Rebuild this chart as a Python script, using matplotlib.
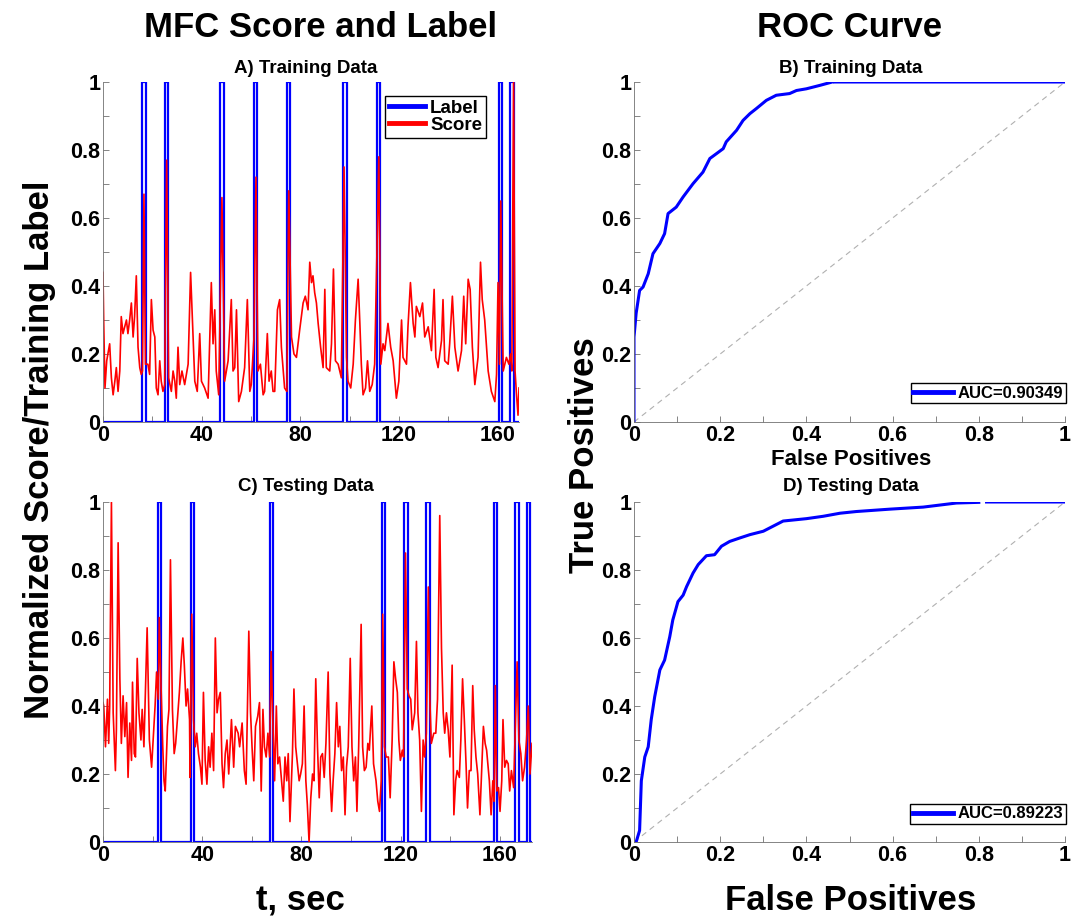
import numpy as np
import matplotlib.pyplot as plt
from matplotlib.lines import Line2D

plt.rcParams['font.family'] = ['Liberation Sans', 'DejaVu Sans']
plt.rcParams['font.weight'] = 'bold'

# MFC score, training data (t in sec, normalized score)
train_t = [0.0, 0.3, 0.8, 1.5, 2.7, 3.4, 4.1, 4.8, 5.4, 6.1, 6.8, 7.4, 8.1, 8.8, 9.5, 10.1,
           10.8, 11.5, 12.2, 12.8, 13.5, 14.2, 14.9, 15.5, 16.0, 16.6, 17.2, 18.2, 18.9, 19.6,
           20.3, 21.0, 21.6, 22.3, 23.0, 23.6, 24.3, 25.0, 25.8, 26.6, 27.7, 28.4, 29.1, 29.7,
           30.4, 31.1, 32.0, 33.1, 34.5, 35.5, 36.5, 37.2, 38.2, 39.2, 39.9, 41.2, 42.6, 43.9,
           44.6, 45.3, 45.9, 46.9, 48.2, 49.3, 50.7, 52.0, 52.7, 53.4, 54.1, 55.0, 56.1, 57.4,
           58.5, 59.5, 60.1, 61.2, 62.0, 62.8, 63.8, 64.9, 65.5, 66.6, 67.3, 68.2, 68.9, 69.6,
           70.7, 71.6, 72.3, 73.6, 74.5, 75.3, 76.4, 77.4, 78.4, 79.7, 81.1, 82.0, 83.1, 83.8,
           84.5, 85.1, 85.8, 86.5, 87.2, 88.2, 89.2, 89.9, 90.5, 91.9, 92.6, 93.4, 94.2, 95.3,
           96.6, 97.7, 98.7, 99.3, 100.4, 101.4, 102.3, 103.4, 104.1, 104.7, 105.4, 106.4, 107.2,
           108.1, 109.1, 110.1, 111.8, 112.6, 113.5, 114.2, 115.5, 116.6, 117.6, 118.9, 119.9,
           121.0, 121.6, 123.0, 123.6, 124.6, 125.7, 126.4, 127.0, 128.4, 129.5, 130.4, 131.8,
           133.1, 134.2, 134.9, 135.8, 137.2, 137.8, 138.5, 139.9, 140.5, 141.6, 142.6, 143.9,
           145.3, 146.2, 147.0, 148.0, 148.8, 149.7, 150.7, 152.0, 153.0, 153.7, 154.7, 156.1,
           157.4, 158.8, 159.5, 160.1, 160.7, 161.2, 162.2, 163.5, 164.5, 165.2, 165.7, 166.4,
           167.0, 167.6, 168.2, 168.6]
train_score = [0.44, 0.29, 0.10, 0.18, 0.23, 0.13, 0.08, 0.12, 0.16, 0.09, 0.15, 0.31, 0.26, 0.28,
               0.30, 0.26, 0.30, 0.35, 0.25, 0.31, 0.43, 0.22, 0.16, 0.14, 0.15, 0.67, 0.17, 0.17,
               0.14, 0.36, 0.27, 0.25, 0.10, 0.08, 0.18, 0.12, 0.09, 0.11, 0.77, 0.13, 0.09, 0.15,
               0.12, 0.07, 0.22, 0.11, 0.15, 0.11, 0.17, 0.44, 0.25, 0.12, 0.09, 0.26, 0.12, 0.10,
               0.07, 0.41, 0.23, 0.33, 0.15, 0.08, 0.66, 0.12, 0.18, 0.36, 0.15, 0.16, 0.33, 0.06,
               0.09, 0.16, 0.36, 0.09, 0.11, 0.25, 0.72, 0.15, 0.17, 0.08, 0.09, 0.26, 0.12, 0.15,
               0.09, 0.09, 0.33, 0.36, 0.22, 0.10, 0.09, 0.68, 0.25, 0.20, 0.19, 0.27, 0.35, 0.37,
               0.33, 0.47, 0.41, 0.43, 0.38, 0.35, 0.29, 0.22, 0.16, 0.39, 0.16, 0.15, 0.23, 0.45,
               0.18, 0.17, 0.13, 0.75, 0.19, 0.12, 0.10, 0.17, 0.30, 0.42, 0.29, 0.17, 0.08, 0.10,
               0.18, 0.09, 0.11, 0.17, 0.78, 0.17, 0.23, 0.21, 0.29, 0.22, 0.18, 0.07, 0.12, 0.30,
               0.19, 0.17, 0.28, 0.41, 0.29, 0.25, 0.34, 0.31, 0.35, 0.25, 0.28, 0.21, 0.39, 0.19,
               0.16, 0.24, 0.36, 0.18, 0.17, 0.23, 0.37, 0.22, 0.15, 0.21, 0.37, 0.23, 0.42, 0.39,
               0.22, 0.11, 0.19, 0.47, 0.36, 0.30, 0.15, 0.09, 0.06, 0.14, 0.41, 0.17, 0.65, 0.15,
               0.19, 0.17, 0.20, 0.15, 1.00, 0.15, 0.08, 0.02, 0.10]
train_label_on = [15.9, 25.1, 47.6, 61.2, 74.5, 97.3, 110.9, 160.3, 165.0]

# MFC score, testing data
test_t = [0.0, 0.3, 1.0, 1.8, 2.3, 2.7, 3.4, 4.1, 5.0, 5.4, 6.1, 6.8, 7.4, 8.1, 8.8, 9.5, 10.1,
          10.8, 11.5, 11.9, 12.6, 13.1, 13.8, 14.5, 15.3, 15.8, 16.5, 16.9, 17.8, 18.7, 19.6,
          20.3, 21.0, 21.6, 22.3, 22.7, 23.4, 24.1, 24.6, 25.1, 26.0, 26.6, 27.2, 28.0, 28.7,
          29.3, 30.1, 30.8, 31.5, 32.2, 32.8, 33.5, 34.1, 34.9, 35.1, 35.8, 36.5, 37.2, 37.8,
          38.5, 39.3, 39.9, 40.5, 41.2, 41.9, 42.6, 43.2, 43.9, 44.6, 45.3, 46.0, 46.6, 47.3,
          48.0, 48.6, 49.3, 50.0, 50.7, 51.8, 52.7, 53.4, 54.5, 55.1, 56.1, 57.0, 57.7, 58.8,
          59.5, 60.1, 60.8, 61.5, 62.4, 63.1, 63.8, 64.5, 65.1, 65.8, 66.5, 67.2, 67.8, 68.5,
          69.2, 69.9, 70.5, 71.2, 72.0, 72.7, 73.4, 74.1, 74.7, 75.4, 76.4, 77.0, 77.7, 78.4,
          79.1, 79.7, 80.4, 81.1, 81.8, 82.4, 83.1, 83.8, 84.5, 85.1, 85.8, 86.5, 87.2, 87.8,
          88.5, 89.2, 89.9, 90.8, 91.5, 92.2, 92.8, 93.5, 94.2, 94.9, 95.5, 96.2, 96.9, 97.6,
          98.2, 98.9, 99.7, 100.4, 101.1, 101.8, 102.4, 103.1, 104.1, 104.7, 105.4, 106.1,
          106.8, 107.4, 108.4, 109.1, 110.1, 110.8, 111.5, 112.2, 112.8, 113.5, 114.2, 115.1,
          115.8, 116.6, 117.3, 118.0, 118.7, 119.3, 119.9, 120.7, 121.2, 122.0, 122.7, 123.4,
          124.1, 124.7, 125.7, 126.4, 127.0, 127.7, 128.4, 129.1, 129.7, 130.4, 131.2, 131.8,
          132.4, 133.4, 134.2, 134.9, 135.8, 136.5, 137.2, 137.8, 138.5, 139.2, 139.9, 140.8,
          141.5, 142.2, 142.8, 143.7, 144.3, 145.0, 145.7, 146.4, 147.0, 147.7, 148.4, 149.1,
          149.7, 150.4, 151.1, 152.0, 152.7, 153.4, 154.1, 154.7, 155.8, 156.5, 157.2, 157.7,
          158.2, 158.8, 159.5, 160.1, 160.8, 161.3, 162.0, 162.7, 163.4, 164.0, 164.7, 165.6,
          167.0, 167.7, 168.5, 169.2, 170.0, 170.8, 171.5, 172.2, 173.0]
test_score = [0.41, 0.40, 0.28, 0.42, 0.29, 0.40, 1.00, 0.38, 0.21, 0.33, 0.88, 0.48, 0.29, 0.43,
              0.31, 0.41, 0.19, 0.35, 0.24, 0.47, 0.26, 0.25, 0.54, 0.38, 0.30, 0.39, 0.28, 0.39,
              0.63, 0.30, 0.22, 0.31, 0.40, 0.50, 0.42, 0.66, 0.46, 0.28, 0.18, 0.15, 0.34, 0.39,
              0.83, 0.39, 0.26, 0.29, 0.37, 0.44, 0.53, 0.60, 0.52, 0.40, 0.45, 0.36, 0.19, 0.67,
              0.36, 0.28, 0.32, 0.26, 0.22, 0.17, 0.44, 0.24, 0.17, 0.28, 0.22, 0.32, 0.21, 0.60,
              0.38, 0.42, 0.44, 0.23, 0.16, 0.26, 0.30, 0.20, 0.36, 0.22, 0.34, 0.32, 0.28, 0.35,
              0.21, 0.17, 0.62, 0.38, 0.28, 0.18, 0.34, 0.37, 0.41, 0.15, 0.39, 0.28, 0.25, 0.32,
              0.25, 0.56, 0.35, 0.18, 0.40, 0.23, 0.25, 0.18, 0.12, 0.25, 0.18, 0.26, 0.06, 0.26,
              0.45, 0.28, 0.23, 0.18, 0.20, 0.23, 0.40, 0.18, 0.11, 0.00, 0.13, 0.20, 0.18, 0.48,
              0.28, 0.13, 0.25, 0.26, 0.19, 0.29, 0.50, 0.20, 0.09, 0.18, 0.26, 0.41, 0.28, 0.34,
              0.21, 0.25, 0.08, 0.22, 0.28, 0.54, 0.28, 0.18, 0.25, 0.09, 0.28, 0.64, 0.28, 0.21,
              0.22, 0.29, 0.27, 0.40, 0.23, 0.18, 0.12, 0.09, 0.18, 0.67, 0.28, 0.25, 0.25, 0.13,
              0.30, 0.53, 0.48, 0.44, 0.30, 0.24, 0.27, 0.25, 0.85, 0.45, 0.43, 0.42, 0.33, 0.38,
              0.59, 0.38, 0.30, 0.09, 0.30, 0.25, 0.32, 0.75, 0.42, 0.29, 0.32, 0.32, 0.42, 0.96,
              0.57, 0.38, 0.32, 0.38, 0.33, 0.25, 0.52, 0.08, 0.18, 0.21, 0.19, 0.30, 0.48, 0.36,
              0.23, 0.10, 0.21, 0.21, 0.46, 0.33, 0.25, 0.20, 0.08, 0.21, 0.34, 0.29, 0.27, 0.18,
              0.08, 0.18, 0.12, 0.46, 0.15, 0.16, 0.09, 0.18, 0.36, 0.22, 0.24, 0.23, 0.15, 0.21,
              0.16, 0.53, 0.30, 0.26, 0.18, 0.22, 0.30, 0.40, 0.20, 0.29]
test_label_on = [22.0, 35.4, 67.2, 112.4, 121.5, 130.4, 157.6, 166.3, 170.9]
label_width = 1.4

# ROC curves (nan marks the small gap in the drawn line)
roc_train_fpr = [0, 0, 0.005, 0.013, 0.021, 0.033, 0.044, 0.06, 0.071, 0.079, 0.098, 0.114,
                 0.137, 0.16, 0.176, 0.191, 0.207, 0.214, 0.238, 0.253, 0.269, 0.284, 0.307,
                 0.33, 0.361, 0.377, 0.40, 0.431, 0.46, np.nan, 0.466, 1.0]
roc_train_tpr = [0, 0.25, 0.32, 0.387, 0.397, 0.436, 0.495, 0.525, 0.554, 0.613, 0.632, 0.662,
                 0.701, 0.735, 0.775, 0.789, 0.804, 0.824, 0.858, 0.887, 0.907, 0.922, 0.946,
                 0.961, 0.966, 0.975, 0.98, 0.99, 1.0, np.nan, 1.0, 1.0]
roc_test_fpr = [0.005, 0.013, 0.017, 0.025, 0.033, 0.04, 0.048, 0.06, 0.071, 0.083, 0.09, 0.102,
                0.114, 0.122, 0.137, 0.149, 0.168, 0.187, 0.203, 0.222, 0.245, 0.269, 0.30,
                0.323, 0.346, 0.40, 0.439, 0.478, 0.516, 0.594, 0.671, 0.748, 0.80, np.nan,
                0.818, 1.0]
roc_test_tpr = [0, 0.034, 0.18, 0.25, 0.28, 0.36, 0.427, 0.506, 0.535, 0.604, 0.653, 0.707,
                0.726, 0.751, 0.791, 0.816, 0.842, 0.845, 0.87, 0.884, 0.894, 0.904, 0.914,
                0.929, 0.944, 0.951, 0.958, 0.967, 0.972, 0.979, 0.985, 0.997, 0.999, np.nan,
                1.0, 1.0]
auc_train = 0.90349
auc_test = 0.89223


def label_steps(starts, width, t_end):
    # build the 0/1 label signal as a step line
    x = [0.0]
    y = [0.0]
    for s in starts:
        x += [s, s, s + width, s + width]
        y += [0, 1, 1, 0]
    x.append(t_end)
    y.append(0)
    return x, y


def style_axes(ax):
    for side in ['top', 'right']:
        ax.spines[side].set_visible(False)
    for side in ['left', 'bottom']:
        ax.spines[side].set_color('#707070')
        ax.spines[side].set_linewidth(0.6)
    ax.tick_params(which='both', direction='in', length=4, width=0.6, color='#707070',
                   labelsize=15.5, pad=2)
    for lab in ax.get_xticklabels() + ax.get_yticklabels():
        lab.set_fontweight('bold')


def fmt(v):
    return '%g' % v


fig = plt.figure(figsize=(10.73, 9.16), dpi=100)
W, H = 1073.0, 916.0

# left column: score and label
ax_a = fig.add_axes([103 / W, 1 - 422 / H, (519 - 103) / W, 340 / H])
ax_c = fig.add_axes([103 / W, 1 - 842 / H, (532 - 103) / W, 340 / H])
for ax, t, s, on, tmax in [(ax_a, train_t, train_score, train_label_on, 168.6),
                           (ax_c, test_t, test_score, test_label_on, 173.0)]:
    lx, ly = label_steps(on, label_width, tmax)
    ax.plot(lx, ly, color='#0000ff', lw=1.6, label='Label')
    ax.plot(t, s, color='#ff0000', lw=1.2, label='Score')
    ax.set_xlim(0, tmax)
    ax.set_ylim(0, 1)
    ax.set_xticks([0, 40, 80, 120, 160])
    ax.set_xticks([20, 60, 100, 140], minor=True)
    ax.set_yticks([0, 0.2, 0.4, 0.6, 0.8, 1.0])
    ax.set_yticklabels([fmt(v) for v in [0, 0.2, 0.4, 0.6, 0.8, 1]])
    ax.set_yticks(np.arange(0.1, 1.0, 0.2), minor=True)
    style_axes(ax)

leg_handles = [Line2D([], [], color='#0000ff', lw=3.5), Line2D([], [], color='#ff0000', lw=3.5)]
leg = ax_a.legend(leg_handles, ['Label', 'Score'], loc='upper right',
                  bbox_to_anchor=(486 / W, 1 - 96 / H), bbox_transform=fig.transFigure,
                  fancybox=False, edgecolor='black', framealpha=1, fontsize=13.5,
                  handlelength=1.9, handletextpad=0.3, borderpad=0.2, labelspacing=0.0,
                  borderaxespad=0)
leg.get_frame().set_linewidth(1.0)
for txt in leg.get_texts():
    txt.set_fontweight('bold')

# right column: ROC curves
ax_b = fig.add_axes([634 / W, 1 - 422 / H, (1065 - 634) / W, 340 / H])
ax_d = fig.add_axes([634 / W, 1 - 842 / H, (1065 - 634) / W, 340 / H])
for ax, fpr, tpr, auc, anchor_y in [(ax_b, roc_train_fpr, roc_train_tpr, auc_train, 403),
                                    (ax_d, roc_test_fpr, roc_test_tpr, auc_test, 824)]:
    ax.plot([0, 1], [0, 1], color='#b0b0b0', lw=0.8, dashes=(5, 4))
    ax.plot(fpr, tpr, color='#0000ff', lw=2.2, label='AUC=%.5f' % auc)
    ax.set_xlim(0, 1)
    ax.set_ylim(0, 1)
    ticks = [0, 0.2, 0.4, 0.6, 0.8, 1.0]
    ax.set_xticks(ticks)
    ax.set_yticks(ticks)
    ax.set_xticklabels([fmt(v) for v in [0, 0.2, 0.4, 0.6, 0.8, 1]])
    ax.set_yticklabels([fmt(v) for v in [0, 0.2, 0.4, 0.6, 0.8, 1]])
    ax.set_xticks(np.arange(0.1, 1.0, 0.2), minor=True)
    ax.set_yticks(np.arange(0.1, 1.0, 0.2), minor=True)
    style_axes(ax)
    lg = ax.legend(loc='lower right', bbox_to_anchor=(1066 / W, 1 - anchor_y / H),
                   bbox_transform=fig.transFigure, fancybox=False, edgecolor='black',
                   framealpha=1, fontsize=12, handlelength=2.4, handletextpad=0.3,
                   borderpad=0.15, borderaxespad=0)
    lg.get_frame().set_linewidth(1.0)
    for txt in lg.get_texts():
        txt.set_fontweight('bold')
    for ln in lg.get_lines():
        ln.set_linewidth(3.5)

# titles and labels
fig.text(321 / W, 1 - 37 / H, 'MFC Score and Label', fontsize=25, ha='center', va='baseline')
fig.text(850 / W, 1 - 37 / H, 'ROC Curve', fontsize=25, ha='center', va='baseline')
fig.text(306 / W, 1 - 73 / H, 'A) Training Data', fontsize=13.5, ha='center', va='baseline')
fig.text(851 / W, 1 - 73 / H, 'B) Training Data', fontsize=13.5, ha='center', va='baseline')
fig.text(306 / W, 1 - 491 / H, 'C) Testing Data', fontsize=13.5, ha='center', va='baseline')
fig.text(851 / W, 1 - 491 / H, 'D) Testing Data', fontsize=13.5, ha='center', va='baseline')
fig.text(851 / W, 1 - 465 / H, 'False Positives', fontsize=16, ha='center', va='baseline')
fig.text(300 / W, 1 - 910 / H, 't, sec', fontsize=25, ha='center', va='baseline')
fig.text(851 / W, 1 - 910 / H, 'False Positives', fontsize=25, ha='center', va='baseline')
fig.text(40 / W, 1 - 450 / H, 'Normalized Score/Training Label', fontsize=25, rotation=90,
         ha='center', va='center')
fig.text(584 / W, 1 - 455 / H, 'True Positives', fontsize=25, rotation=90,
         ha='center', va='center')

fig.savefig('out.png', dpi=100)
